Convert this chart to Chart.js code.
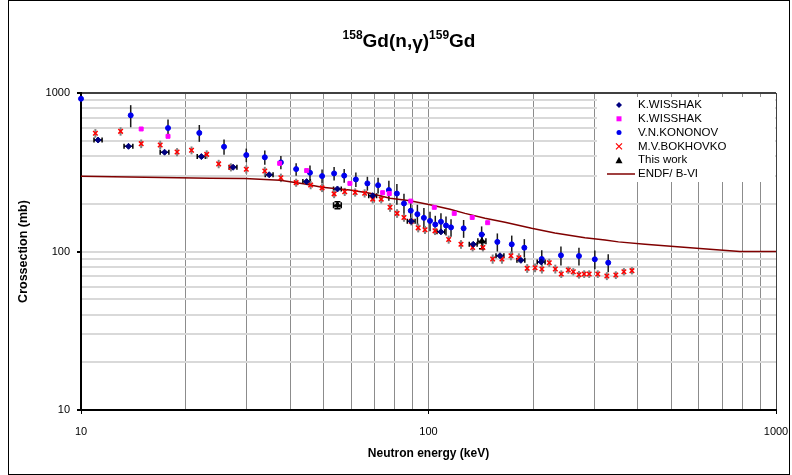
<!DOCTYPE html>
<html>
<head>
<meta charset="utf-8">
<title>158Gd(n,g)159Gd</title>
<script src="https://cdn.jsdelivr.net/npm/chart.js@4.4.1/dist/chart.umd.min.js"></script>
<style>
  body { margin: 0; background: #fff; }
  canvas { display: block; }
</style>
</head>
<body>
<canvas id="chart" width="792" height="475"></canvas>
<script>
// values (energy in keV, cross section in mb)
const energyKW1 = [11.2, 13.7, 17.4, 22.2, 27.4, 34.8, 44.6, 54.7, 69.1, 89.2, 108.6, 134.5, 160.6, 184.5, 211];
const sigmaKW1 = [505, 461, 423, 397, 340, 305, 276, 248, 225, 155, 133, 111, 94, 88, 86];
const dEnergyKW1 = [0.3, 0.4, 0.5, 0.6, 0.7, 0.9, 1.1, 1.4, 1.8, 2.3, 2.8, 3.5, 4.2, 4.8, 5.5];

const energyKW2 = [14.9, 17.8, 37.3, 44.6, 59.4, 73.8, 77.1, 88.9, 103.9, 118.6, 133.6, 148];
const sigmaKW2 = [593, 533, 360, 324, 269, 235, 232, 208, 190, 174, 164, 152];

const energyKon = [10, 13.9, 17.8, 21.9, 25.8, 29.9, 33.8, 37.6, 41.6, 45.6,
  49.4, 53.5, 57.2, 61.8, 66.7, 71.6, 76.9, 81.1, 85.0, 88.9,
  92.9, 97.0, 101, 104.6, 108.6, 112.3, 116.1, 126.2, 142.2, 157.8,
  173.6, 188.7, 211.8, 240.5, 271, 301, 329];
const sigmaKon = [920, 723, 601, 560, 458, 406, 393, 365, 331, 314,
  299, 311, 301, 285, 269, 262, 244, 232, 201, 181,
  172, 163, 156, 148, 154, 146, 142, 140, 128, 115,
  111, 105.7, 89.7, 94.6, 93.7, 89.3, 85];
const dSigmaKon = [0, 115, 80, 68, 50, 40, 40, 35, 30, 35,
  30, 30, 30, 30, 27, 30, 35, 35, 30, 25,
  25, 25, 22, 20, 20, 20, 18, 18, 16, 15,
  15, 14, 12, 13, 12, 12, 11];

const energyBok = [11.0, 13.0, 14.9, 16.9, 18.9, 20.8, 23.0, 24.9, 27.0, 29.9,
  33.8, 37.6, 41.6, 45.8, 49.4, 53.5, 57.4, 61.5, 65.5, 69.1,
  73.1, 77.5, 81.2, 85.0, 89.2, 93.4, 97.7, 104.4, 114.3, 124,
  134, 143.4, 153, 162.7, 172.7, 182, 192.3, 202.6, 212, 222.6,
  231.7, 241, 252.5, 261, 271, 280.5, 290, 307, 326, 346,
  365, 385];
const sigmaBok = [557, 573, 479, 470, 424, 435, 410, 357, 340, 330,
  322, 292, 272, 263, 252, 231, 238, 236, 233, 214,
  214, 190, 174, 164, 155, 141, 137, 135, 119, 111,
  106, 106, 89.7, 89.7, 94, 91.4, 78.3, 79, 77.6, 85,
  77.6, 72.1, 76.4, 74.6, 71.4, 72.1, 72.1, 72.1, 70, 71,
  74.6, 75.7];
const dSigmaBok = [35, 35, 30, 30, 25, 25, 25, 22, 20, 20,
  20, 18, 16, 16, 15, 14, 14, 14, 14, 13,
  13, 12, 11, 10, 9, 9, 8, 8, 7, 7,
  6, 6, 6, 6, 6, 6, 5, 5, 5, 5,
  5, 4, 4, 4, 4, 4, 4, 4, 4, 4,
  4, 4];

const energyThis = [54.7, 142.5];
const sigmaThis = [196, 116];
const dEnergyThis = [1.4, 3.8];
const dSigmaThis = [10, 12];

const energyEndf = [10, 23.5, 29.6, 37.4, 44.1, 49.4, 59.4, 67.9, 77.5, 88.5, 101, 115.3,
  127.4, 145.4, 166, 198, 231, 282, 322, 352, 420, 604, 787, 1000];
const sigmaEndf = [298, 290, 289, 282, 267, 254, 244, 233, 217, 209, 197, 185,
  174, 162, 153, 140, 131, 122, 118, 115, 111, 104.5, 100, 100];

const gridValues = [10, 20, 30, 40, 50, 60, 70, 80, 90, 100, 200, 300, 400, 500, 600, 700, 800, 900, 1000];
const tickLabels = ['10', '100', '1000'];

const FONT = "'Liberation Sans', Arial, sans-serif";
Chart.defaults.font.family = FONT;
Chart.defaults.color = '#000';

function pairs(xs, ys) {
  return xs.map((x, i) => ({ x: x, y: ys[i] }));
}

// white page with a thin frame
const framePlugin = {
  id: 'frame',
  beforeDraw(chart) {
    const c = chart.ctx;
    c.save();
    c.fillStyle = '#fff';
    c.fillRect(0, 0, chart.width, chart.height);
    c.strokeStyle = '#000';
    c.lineWidth = 1;
    c.strokeRect(8.5, 0.5, 781, 474);
    c.restore();
  }
};

// error bars, drawn under the markers
const errorBarPlugin = {
  id: 'errorBars',
  beforeDatasetsDraw(chart) {
    const c = chart.ctx;
    const xs = chart.scales.x, ys = chart.scales.y;
    c.save();
    chart.data.datasets.forEach(ds => {
      if (!ds.errY && !ds.errX) return;
      c.strokeStyle = ds.errColor;
      c.lineWidth = ds.errWidth;
      ds.data.forEach((p, i) => {
        const px = xs.getPixelForValue(p.x);
        const py = ys.getPixelForValue(p.y);
        const cap = ds.errCap || 0;
        c.beginPath();
        if (ds.errY && ds.errY[i]) {
          const y1 = ys.getPixelForValue(p.y + ds.errY[i]);
          const y2 = ys.getPixelForValue(p.y - ds.errY[i]);
          c.moveTo(px, y1); c.lineTo(px, y2);
          if (cap) {
            c.moveTo(px - cap, y1); c.lineTo(px + cap, y1);
            c.moveTo(px - cap, y2); c.lineTo(px + cap, y2);
          }
        }
        if (ds.errX && ds.errX[i]) {
          const x1 = xs.getPixelForValue(p.x - ds.errX[i]);
          const x2 = xs.getPixelForValue(p.x + ds.errX[i]);
          c.moveTo(x1, py); c.lineTo(x2, py);
          if (cap) {
            c.moveTo(x1, py - cap); c.lineTo(x1, py + cap);
            c.moveTo(x2, py - cap); c.lineTo(x2, py + cap);
          }
        }
        c.stroke();
      });
    });
    c.restore();
  }
};

// title with superscript mass numbers
const titlePlugin = {
  id: 'richTitle',
  afterDraw(chart) {
    const c = chart.ctx;
    const parts = [
      { t: '158', size: 12, dy: -8 },
      { t: 'Gd(n,', size: 19, dy: 0 },
      { t: 'γ', size: 19, dy: 2 },
      { t: ')', size: 19, dy: 0 },
      { t: '159', size: 12, dy: -8 },
      { t: 'Gd', size: 19, dy: 0 }
    ];
    c.save();
    c.fillStyle = '#000';
    c.textBaseline = 'alphabetic';
    let total = 0;
    parts.forEach(p => {
      c.font = 'bold ' + p.size + 'px ' + FONT;
      p.w = c.measureText(p.t).width;
      total += p.w;
    });
    let x = 409 - total / 2;
    parts.forEach(p => {
      c.font = 'bold ' + p.size + 'px ' + FONT;
      c.fillText(p.t, x, 47 + p.dy);
      x += p.w;
    });
    c.restore();
  }
};

// legend box inside the plot, top right
const legendPlugin = {
  id: 'boxLegend',
  afterDraw(chart) {
    const c = chart.ctx;
    c.save();
    c.fillStyle = '#fff';
    c.fillRect(597, 97, 178, 85);
    c.font = '11.5px ' + FONT;
    c.textBaseline = 'middle';
    const mx = 619;
    chart.data.datasets.forEach((ds, i) => {
      const y = 105 + i * 13.8;
      c.fillStyle = ds.backgroundColor;
      c.strokeStyle = ds.borderColor;
      c.beginPath();
      if (ds.legendMark === 'diamond') {
        c.moveTo(mx, y - 3); c.lineTo(mx + 3, y); c.lineTo(mx, y + 3); c.lineTo(mx - 3, y);
        c.closePath(); c.fill();
      } else if (ds.legendMark === 'square') {
        c.fillRect(mx - 2.5, y - 2.5, 5, 5);
      } else if (ds.legendMark === 'circle') {
        c.arc(mx, y, 2.5, 0, Math.PI * 2); c.fill();
      } else if (ds.legendMark === 'cross') {
        c.lineWidth = 1.2;
        c.moveTo(mx - 3, y - 3); c.lineTo(mx + 3, y + 3);
        c.moveTo(mx + 3, y - 3); c.lineTo(mx - 3, y + 3);
        c.stroke();
      } else if (ds.legendMark === 'triangle') {
        c.moveTo(mx, y - 3.5); c.lineTo(mx + 3.5, y + 3); c.lineTo(mx - 3.5, y + 3);
        c.closePath(); c.fill();
      } else {
        c.lineWidth = 1.5;
        c.moveTo(607, y); c.lineTo(635, y);
        c.stroke();
      }
      c.fillStyle = '#000';
      c.fillText(ds.label, 638, y);
    });
    c.restore();
  }
};

const ctx = document.getElementById('chart').getContext('2d');
new Chart(ctx, {
  type: 'scatter',
  data: {
    datasets: [
      {
        label: 'K.WISSHAK', legendMark: 'diamond',
        data: pairs(energyKW1, sigmaKW1),
        pointStyle: 'rectRot', pointRadius: 3,
        backgroundColor: '#000080', borderColor: '#000080', borderWidth: 1,
        errX: dEnergyKW1, errColor: '#000', errWidth: 1.5, errCap: 2.5, clip: false
      },
      {
        label: 'K.WISSHAK', legendMark: 'square',
        data: pairs(energyKW2, sigmaKW2),
        pointStyle: 'rect', pointRadius: 2.8,
        backgroundColor: '#ff00ff', borderColor: '#ff00ff', borderWidth: 1, clip: false
      },
      {
        label: 'V.N.KONONOV', legendMark: 'circle',
        data: pairs(energyKon, sigmaKon),
        pointStyle: 'circle', pointRadius: 2.5,
        backgroundColor: '#0000ee', borderColor: '#0000ee', borderWidth: 1,
        errY: dSigmaKon, errColor: '#1a1a1a', errWidth: 1.5, clip: false
      },
      {
        label: 'M.V.BOKHOVKO', legendMark: 'cross',
        data: pairs(energyBok, sigmaBok),
        pointStyle: 'crossRot', pointRadius: 3.2,
        backgroundColor: '#ff0000', borderColor: '#ff0000', borderWidth: 1.5,
        errY: dSigmaBok, errColor: '#808080', errWidth: 2, clip: false
      },
      {
        label: 'This work', legendMark: 'triangle',
        data: pairs(energyThis, sigmaThis),
        pointStyle: 'triangle', pointRadius: 3.5,
        backgroundColor: '#000', borderColor: '#000', borderWidth: 1,
        errX: dEnergyThis, errY: dSigmaThis, errColor: '#000', errWidth: 1.5, errCap: 3, clip: false
      },
      {
        label: 'ENDF/ B-VI', legendMark: 'line',
        data: pairs(energyEndf, sigmaEndf),
        showLine: true, pointRadius: 0, borderWidth: 1.5,
        backgroundColor: '#800000', borderColor: '#800000', fill: false
      }
    ]
  },
  options: {
    responsive: false,
    animation: false,
    layout: { padding: { left: 0, right: 16, top: 93, bottom: 0 } },
    plugins: {
      legend: { display: false },
      tooltip: { enabled: false }
    },
    scales: {
      x: {
        type: 'logarithmic', min: 10, max: 1000,
        afterBuildTicks: s => { s.ticks = gridValues.map(v => ({ value: v })); },
        afterFit: s => { s.height = 65; s.paddingLeft = 0; s.paddingRight = 0; },
        ticks: {
          autoSkip: false, maxRotation: 0, padding: 11,
          font: { size: 11 },
          callback: v => tickLabels.includes(String(v)) ? String(v) : ''
        },
        grid: {
          color: c => c.tick && c.tick.value === 1000 ? '#404040' : '#8c8c8c',
          lineWidth: 1,
          tickLength: 4,
          tickColor: c => c.tick && tickLabels.includes(String(c.tick.value)) ? '#000' : 'rgba(0,0,0,0)'
        },
        border: { color: '#000', width: 2 },
        title: {
          display: true, text: 'Neutron energy (keV)',
          font: { size: 12, weight: 'bold' },
          padding: { top: 0, bottom: 14.5 }
        }
      },
      y: {
        type: 'logarithmic', min: 10, max: 1000,
        afterBuildTicks: s => { s.ticks = gridValues.map(v => ({ value: v })); },
        afterFit: s => { s.width = 81; s.paddingTop = 0; s.paddingBottom = 0; },
        ticks: {
          autoSkip: false, padding: 7,
          font: { size: 11 },
          callback: v => tickLabels.includes(String(v)) ? String(v) : ''
        },
        grid: {
          color: c => c.tick && c.tick.value === 1000 ? '#404040' : '#d9d9d9',
          lineWidth: 2,
          tickLength: 4,
          tickColor: c => c.tick && tickLabels.includes(String(c.tick.value)) ? '#000' : 'rgba(0,0,0,0)'
        },
        border: { color: '#000', width: 2 },
        title: {
          display: true, text: 'Crossection (mb)',
          font: { size: 12.5, weight: 'bold' },
          padding: { top: 16.5, bottom: 0 }
        }
      }
    }
  },
  plugins: [framePlugin, errorBarPlugin, titlePlugin, legendPlugin]
});
</script>
</body>
</html>
